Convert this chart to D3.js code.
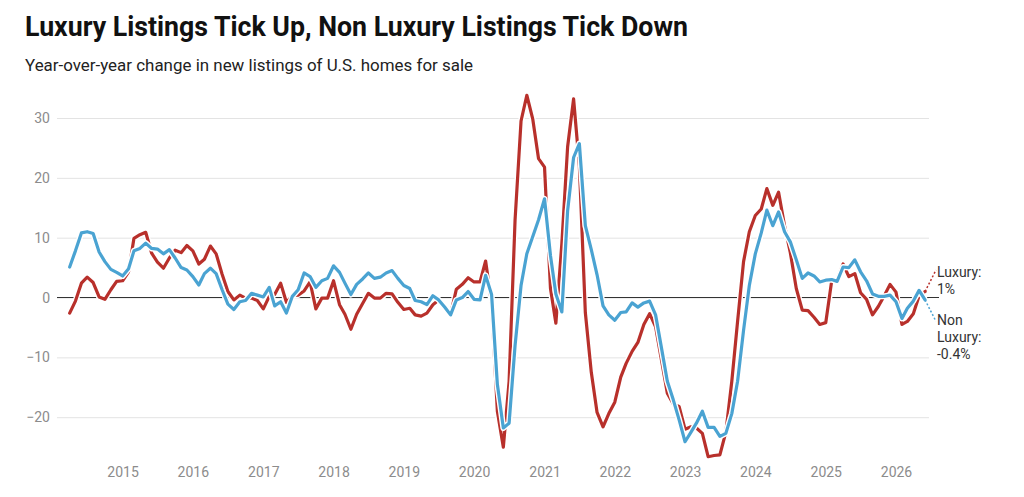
<!DOCTYPE html>
<html>
<head>
<meta charset="utf-8">
<script src="https://cdn.jsdelivr.net/npm/d3@7"></script>
<style>
  body { margin: 0; background: #fff; }
  text { font-family: Roboto, "Noto Sans", sans-serif; }
</style>
</head>
<body>
<div id="chart"></div>
<script>
var width = 1024;
var height = 497;

var luxColor = '#b8302b';
var nonLuxColor = '#4aa3d2';

// monthly series, first point = April 2014
var startMonth = new Date(2014, 3, 1);

var luxury = [
  -2.6, -0.6, 2.4, 3.4, 2.5, 0.1, -0.3, 1.3, 2.7, 2.8, 4.3, 9.9,
  10.5, 10.9, 7.4, 5.9, 4.9, 6.6, 7.9, 7.5, 8.7, 7.8, 5.6, 6.4,
  8.6, 7.3, 3.9, 1.0, -0.4, 0.4, -0.1, -0.1, -0.5, -1.9, 0.2, 0.5,
  2.4, -0.8, 0.3, 0.4, 1.1, 2.6, -1.9, -0.1, -0.1, 2.8, -1.2, -2.8,
  -5.3, -2.8, -1.0, 0.7, -0.1, -0.1, 0.7, 0.6, -0.8, -2.0, -1.8, -2.9,
  -3.1, -2.6, -1.2, -0.4, -1.5, -2.8, 1.4, 2.2, 3.3, 2.6, 2.6, 6.1,
  -1.0, -19.0, -25.0, -14.0, 13.0, 29.5, 33.8, 29.8, 23.2, 21.8, 1.5, -4.3,
  9.0, 25.2, 33.2, 22.0, -2.5, -12.5, -19.2, -21.6, -19.4, -17.5, -13.3, -11.0,
  -9.0, -7.5, -4.5, -2.7, -4.9, -10.5, -16.0, -17.8, -18.2, -22.0, -21.6, -21.8,
  -22.7, -26.6, -26.4, -26.3, -22.5, -14.0, -4.0, 6.0, 11.0, 13.7, 14.8, 18.2,
  15.4, 17.6, 12.0, 7.5, 1.5, -2.1, -2.2, -3.3, -4.5, -4.2, 2.8, 3.0,
  5.6, 3.5, 4.0, 0.8, -0.3, -2.9, -1.5, 0.3, 2.2, 0.9, -4.5, -4.0,
  -2.7, 0.3, 1.0
];

var nonLuxury = [
  5.1, 7.8, 10.8, 11.0, 10.7, 7.6, 6.0, 4.7, 4.2, 3.6, 4.8, 7.8,
  8.2, 9.1, 8.2, 8.1, 7.3, 8.0, 6.6, 5.0, 4.6, 3.5, 2.1, 4.0,
  4.9, 4.0, 1.3, -1.1, -2.0, -0.7, -0.5, 0.7, 0.4, 0.1, 1.7, -1.4,
  -0.7, -2.6, 0.2, 1.3, 4.1, 3.5, 1.7, 2.8, 3.2, 5.3, 4.2, 2.4,
  0.5, 2.2, 3.1, 4.1, 3.2, 3.4, 4.1, 4.5, 3.2, 2.0, 1.5, -0.5,
  -0.7, -1.2, 0.3, -0.4, -1.6, -2.9, -0.4, 0.0, 1.0, -0.3, -0.4, 3.7,
  0.5, -14.5, -21.8, -21.0, -8.0, 2.0, 7.3, 10.2, 13.0, 16.5, 7.0, 0.6,
  -2.4, 14.5, 23.4, 25.7, 12.0, 8.0, 3.8, -1.4, -2.9, -3.8, -2.5, -2.4,
  -0.9, -1.6, -0.9, -0.6, -2.9, -8.5, -14.0, -17.1, -20.4, -24.1, -22.5, -21.0,
  -19.0, -21.7, -21.7, -23.2, -22.7, -19.4, -14.0, -5.5, 2.0, 7.3, 10.8, 14.6,
  12.0, 14.3, 11.0, 9.3, 6.3, 3.2, 4.1, 3.6, 2.6, 2.9, 3.0, 2.7,
  5.1, 5.0, 6.3, 4.3, 2.8, 0.6, 0.2, 0.2, 0.4, -0.7, -3.5, -1.8,
  -0.6, 1.2, -0.4
];

var yTicks = [-20, -10, 0, 10, 20, 30];
var xTickYears = [2015, 2016, 2017, 2018, 2019, 2020, 2021, 2022, 2023, 2024, 2025, 2026];

var luxLabel = ['Luxury:', '1%'];
var nonLuxLabel = ['Non', 'Luxury:', '-0.4%'];

var svg = d3.select("#chart")
    .append("svg")
    .attr("width", width)
    .attr("height", height);

// titles
svg.append("text")
    .attr("x", 25)
    .attr("y", 36)
    .attr("textLength", 663)
    .attr("lengthAdjust", "spacingAndGlyphs")
    .style("font-size", "27px")
    .style("font-weight", "700")
    .style("fill", "#111")
    .text("Luxury Listings Tick Up, Non Luxury Listings Tick Down");

svg.append("text")
    .attr("x", 25)
    .attr("y", 71)
    .attr("textLength", 448)
    .attr("lengthAdjust", "spacingAndGlyphs")
    .style("font-size", "17px")
    .style("fill", "#222")
    .text("Year-over-year change in new listings of U.S. homes for sale");

// scales
var x = d3.scaleTime()
    .domain([new Date(2015, 0, 1), new Date(2026, 0, 1)])
    .range([122.6, 896]);

var y = d3.scaleLinear()
    .domain([-20, 30])
    .range([417.2, 118]);

var gridLeft = 57, gridRight = 929;

// gridlines + y labels
var yAxis = d3.axisLeft(y)
    .tickValues(yTicks)
    .tickSize(-(gridRight - gridLeft))
    .tickPadding(7)
    .tickFormat(function (d) { return d < 0 ? "\u2212" + Math.abs(d) : d; });

var gy = svg.append("g")
    .attr("class", "y axis")
    .attr("transform", "translate(" + gridLeft + ",0)")
    .call(yAxis);
gy.select(".domain").remove();
gy.selectAll(".tick line")
    .style("stroke", "#e3e3e3")
    .style("stroke-width", 1);
gy.selectAll(".tick text")
    .style("font-size", "14px")
    .style("fill", "#8c8c8c")
    .style("font-family", "Roboto, sans-serif");

// zero line
svg.append("line")
    .attr("x1", gridLeft)
    .attr("x2", 939)
    .attr("y1", y(0))
    .attr("y2", y(0))
    .style("stroke", "#333")
    .style("stroke-width", 1.2);

// x labels
var xAxis = d3.axisBottom(x)
    .tickValues(xTickYears.map(function (yr) { return new Date(yr, 0, 1); }))
    .tickSize(0)
    .tickPadding(0)
    .tickFormat(d3.timeFormat("%Y"));

var gx = svg.append("g")
    .attr("class", "x axis")
    .attr("transform", "translate(0,467)")
    .call(xAxis);
gx.select(".domain").remove();
gx.selectAll(".tick text")
    .style("font-size", "14px")
    .style("fill", "#8c8c8c")
    .style("font-family", "Roboto, sans-serif");

// lines
function toPoints(values) {
    return values.map(function (v, i) {
        return { date: d3.timeMonth.offset(startMonth, i), value: v };
    });
}

var line = d3.line()
    .x(function (d) { return x(d.date); })
    .y(function (d) { return y(d.value); });

var series = [
    { name: "luxury", color: luxColor, points: toPoints(luxury) },
    { name: "nonLuxury", color: nonLuxColor, points: toPoints(nonLuxury) }
];

series.forEach(function (s) {
    svg.append("path")
        .datum(s.points)
        .attr("d", line)
        .style("fill", "none")
        .style("stroke", "#fff")
        .style("stroke-width", 6)
        .style("stroke-linejoin", "round");
    svg.append("path")
        .datum(s.points)
        .attr("d", line)
        .style("fill", "none")
        .style("stroke", s.color)
        .style("stroke-width", 3.2)
        .style("stroke-linejoin", "round")
        .style("stroke-linecap", "round");
});

// end labels with dotted connectors
function endLabel(s, targetValue, lines, firstBaseline) {
    var last = s.points[s.points.length - 1];
    svg.append("line")
        .attr("x1", x(last.date))
        .attr("y1", y(last.value))
        .attr("x2", 936)
        .attr("y2", y(targetValue))
        .style("stroke", s.color)
        .style("stroke-width", 1.5)
        .style("stroke-dasharray", "2,2");
    var t = svg.append("text")
        .attr("x", 937)
        .attr("y", firstBaseline)
        .style("font-size", "14px")
        .style("fill", "#333");
    lines.forEach(function (l, i) {
        t.append("tspan")
            .attr("x", 937)
            .attr("dy", i === 0 ? 0 : 17)
            .text(l);
    });
}

endLabel(series[0], 4.6, luxLabel, 277);
endLabel(series[1], -4.0, nonLuxLabel, 325);
</script>
</body>
</html>
